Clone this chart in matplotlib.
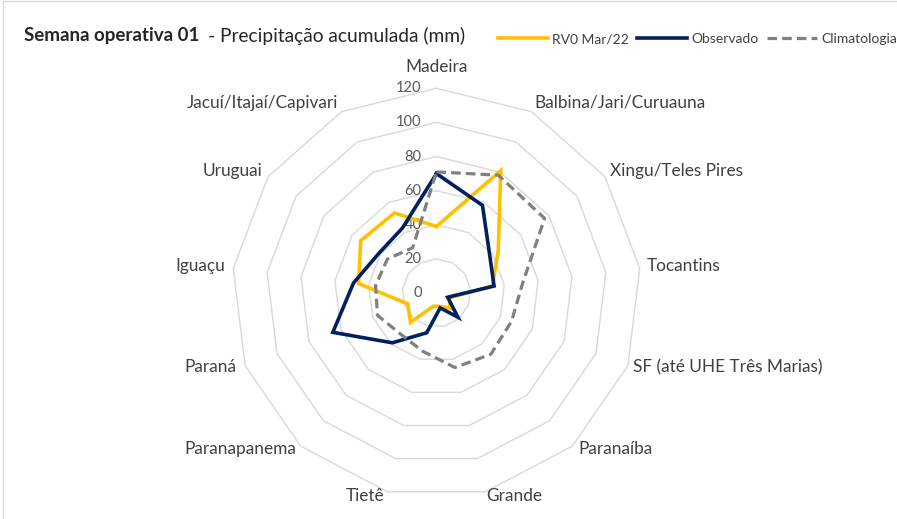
import numpy as np
import matplotlib
matplotlib.use('Agg')
import matplotlib.pyplot as plt
from matplotlib.patches import Rectangle

# categorias (bacias) e séries em mm
categorias = ["Madeira", "Balbina/Jari/Curuauna", "Xingu/Teles Pires", "Tocantins",
              "SF (até UHE Três Marias)", "Paranaíba", "Grande", "Tietê",
              "Paranapanema", "Paraná", "Iguaçu", "Uruguai", "Jacuí/Itajaí/Capivari"]
rv0 = [39, 81, 44, 33, 8, 12, 8, 8, 23, 18, 46, 54, 53]
observado = [70, 58, 38, 34, 7, 19, 9, 24, 39, 65, 49, 41, 43]
climatologia = [71, 78, 77, 51, 47, 48, 45, 35, 32, 37, 36, 35, 30]
niveis = [0, 20, 40, 60, 80, 100, 120]

# deslocamento dos rótulos das categorias (pixels) e alinhamento
rot_offsets = [(0, 21), (3, 9), (5, 6), (7, 2), (5, -1.5), (6, -3), (1, -4),
               (-3, -4), (-5, -3), (-9, -1.5), (-8, 2), (-6, 6), (-3, 9)]

plt.rcParams['font.family'] = ['Lato', 'DejaVu Sans']

W, H = 897, 519
fig = plt.figure(figsize=(W / 100, H / 100), dpi=100)
fig.patch.set_facecolor('white')

# borda do gráfico
fig.patches.append(Rectangle((3 / W, -0.1), 1.2, 1.1 - 1 / H, transform=fig.transFigure,
                             fill=False, edgecolor='#D9D9D9', linewidth=1))

cx, cy, R = 436.5, 293, 204.7
ax = fig.add_axes([(cx - R) / W, (H - cy - R) / H, 2 * R / W, 2 * R / H], projection='polar')
ax.set_theta_zero_location('N')
ax.set_theta_direction(-1)
ax.set_ylim(0, 120)
ax.grid(False)
ax.set_xticks([])
ax.set_yticks([])
ax.spines['polar'].set_visible(False)
ax.patch.set_alpha(0)

n = len(categorias)
ang = np.linspace(0, 2 * np.pi, n, endpoint=False)
ang_c = np.append(ang, ang[0])

# grade poligonal
for r in niveis[1:]:
    ax.plot(ang_c, [r] * (n + 1), color='#D9D9D9', lw=1, clip_on=False, zorder=1)

# rótulos do eixo radial
for r in niveis:
    ax.annotate(str(r), xy=(0, r), xytext=(-15, 0), textcoords='offset pixels',
                ha='right', va='center', fontsize=10.5, color='#595959', zorder=2)

def fechar(v):
    return list(v) + [v[0]]

l1, = ax.plot(ang_c, fechar(rv0), color='#FFC000', lw=2.6, zorder=3,
              label='RV0 Mar/22', solid_joinstyle='miter')
l2, = ax.plot(ang_c, fechar(observado), color='#002060', lw=2.6, zorder=4,
              label='Observado', solid_joinstyle='miter')
l3, = ax.plot(ang_c, fechar(climatologia), color='#808080', lw=2.3, zorder=5,
              dashes=(3, 1.6), label='Climatologia')

# rótulos das categorias
for a, nome, (dx, dy) in zip(ang, categorias, rot_offsets):
    ha = 'center' if dx == 0 else ('left' if dx > 0 else 'right')
    ax.annotate(nome, xy=(a, 120), xytext=(dx, dy), textcoords='offset pixels',
                ha=ha, va='center', fontsize=12.4, color='#404040',
                annotation_clip=False)

# título
t1 = fig.text(24 / W, 1 - 35.5 / H, 'Semana operativa 01', fontsize=13.5,
              fontweight='bold', color='#262626', ha='left', va='center')
ax.annotate('- Precipitação acumulada (mm)', xy=(1, 0.5), xycoords=t1,
            xytext=(9, 0), textcoords='offset pixels', fontsize=13.8,
            color='#262626', ha='left', va='center', annotation_clip=False)

fig.legend(handles=[l1, l2, l3], loc='center right',
           bbox_to_anchor=(897 / W, 1 - 39 / H), ncol=3, frameon=False,
           fontsize=10, handlelength=3.6, handletextpad=0.3, columnspacing=0.6,
           borderaxespad=0, borderpad=0, labelcolor='#404040')

fig.savefig('out.png', dpi=100, facecolor='white')
